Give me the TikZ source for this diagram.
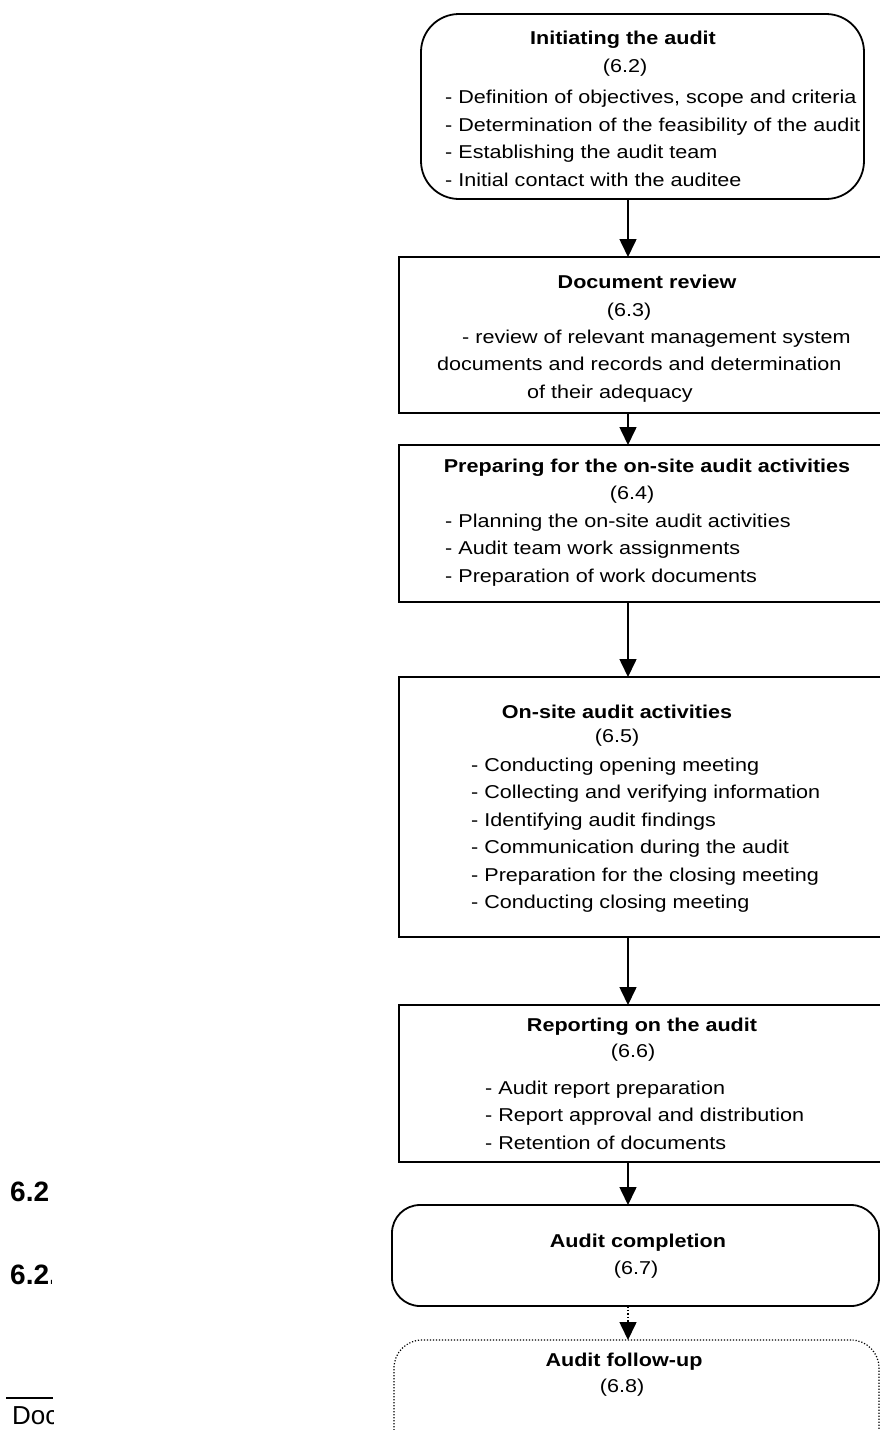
\documentclass[tikz,border=0pt]{standalone}
\usepackage{fontspec}
\setmainfont[FakeStretch=1.16]{Liberation Sans}
\newfontfamily\plainsans{Liberation Sans}
\usetikzlibrary{arrows.meta}
\tikzset{
  boxrect/.style={draw, line width=1.8pt, inner sep=0pt, outer sep=0pt, anchor=north west},
  roundbox/.style={boxrect, rounded corners=38pt},
  smallround/.style={boxrect, rounded corners=28pt},
  dotbox/.style={boxrect, line width=1.2pt, dash pattern=on 1.2pt off 1.8pt, rounded corners=28pt},
  ttl/.style={font=\fontsize{18.6}{27.5}\selectfont\bfseries, inner sep=0pt},
  num/.style={font=\fontsize{18.6}{27.5}\selectfont, inner sep=0pt},
  lst/.style={font=\fontsize{18.6}{27.5}\selectfont, inner sep=0pt, align=left, anchor=west},
  arr/.style={line width=1.6pt, -{Triangle[length=18pt,width=17pt]}},
  dotarr/.style={arr, dash pattern=on 1.5pt off 2pt},
  sidebold/.style={font=\plainsans\fontsize{28}{30}\selectfont\bfseries, inner sep=0pt, anchor=west},
  sidereg/.style={font=\plainsans\fontsize{26}{28}\selectfont, inner sep=0pt, anchor=west},
}
\begin{document}
\begin{tikzpicture}[x=1pt, y=-1pt]
\useasboundingbox (0,0) rectangle (880,1430);
\clip (0,0) rectangle (880,1430);
\coordinate (axis) at (628,0);

% boxes
\node[roundbox, minimum width=443pt, minimum height=185pt] (b1) at (421,14) {};
\node[boxrect, minimum width=484pt, minimum height=156pt] (b2) at (399,257) {};
\node[boxrect, minimum width=484pt, minimum height=157pt] (b3) at (399,445) {};
\node[boxrect, minimum width=484pt, minimum height=260pt] (b4) at (399,677) {};
\node[boxrect, minimum width=484pt, minimum height=157pt] (b5) at (399,1005) {};
\node[smallround, minimum width=487pt, minimum height=101pt] (b6) at (392,1205) {};
\node[dotbox, minimum width=485pt, minimum height=130pt] (b7) at (394,1340) {};

% box 1 text
\node[ttl] (t1) at (623,40) {Initiating the audit};
\node[num] (n1) at (625,68) {(6.2)};
\node[lst] (l1) at (445,138.5) {- Definition of objectives, scope and criteria\\- Determination of the feasibility of the audit\\- Establishing the audit team\\- Initial contact with the auditee};

% box 2 text
\node[ttl] (t2) at (647,282) {Document review};
\node[num] (n2) at (629,312) {(6.3)};
\node[lst] (l2) at (437,366) {\hspace{25pt}- review of relevant management system\\documents and records and determination\\\hspace{90pt}of their adequacy};

% box 3 text
\node[ttl] (t3) at (647,468) {Preparing for the on-site audit activities};
\node[num] (n3) at (632,495) {(6.4)};
\node[lst] (l3) at (445,550) {- Planning the on-site audit activities\\- Audit team work assignments\\- Preparation of work documents};

% box 4 text
\node[ttl] (t4) at (617,712) {On-site audit activities};
\node[num] (n4) at (617,738) {(6.5)};
\node[lst] (l4) at (471,835) {- Conducting opening meeting\\- Collecting and verifying information\\- Identifying audit findings\\- Communication during the audit\\- Preparation for the closing meeting\\- Conducting closing meeting};

% box 5 text
\node[ttl] (t5) at (642,1027) {Reporting on the audit};
\node[num] (n5) at (633,1053) {(6.6)};
\node[lst] (l5) at (485,1115) {- Audit report preparation\\- Report approval and distribution\\- Retention of documents};

% box 6 text
\node[ttl] (t6) at (638,1243) {Audit completion};
\node[num] (n6) at (636,1270) {(6.7)};

% box 7 text
\node[ttl] (t7) at (624,1362) {Audit follow-up};
\node[num] (n7) at (622,1388) {(6.8)};

% connectors
\draw[arr] (b1.south -| axis) -- (b2.north -| axis);
\draw[arr] (b2.south -| axis) -- (b3.north -| axis);
\draw[arr] (b3.south -| axis) -- (b4.north -| axis);
\draw[arr] (b4.south -| axis) -- (b5.north -| axis);
\draw[arr] (b5.south -| axis) -- (b6.north -| axis);
\draw[dotarr] (b6.south -| axis) -- (b7.north -| axis);

% clipped page text on the left
\begin{scope}
\clip (0,1150) rectangle (53,1430);
\node[sidebold] (s1) at (10,1192) {6.2};
\coordinate (fnl) at (6,1398);
\coordinate (fnr) at (53,1398);
\draw[line width=1.5pt] (fnl) -- (fnr);
\node[sidereg] (s3) at (12,1416) {Doc};
\end{scope}
\begin{scope}
\clip (0,1240) rectangle (51.5,1310);
\node[sidebold] (s2) at (10,1275) {6.2.};
\end{scope}
\end{tikzpicture}
\end{document}
